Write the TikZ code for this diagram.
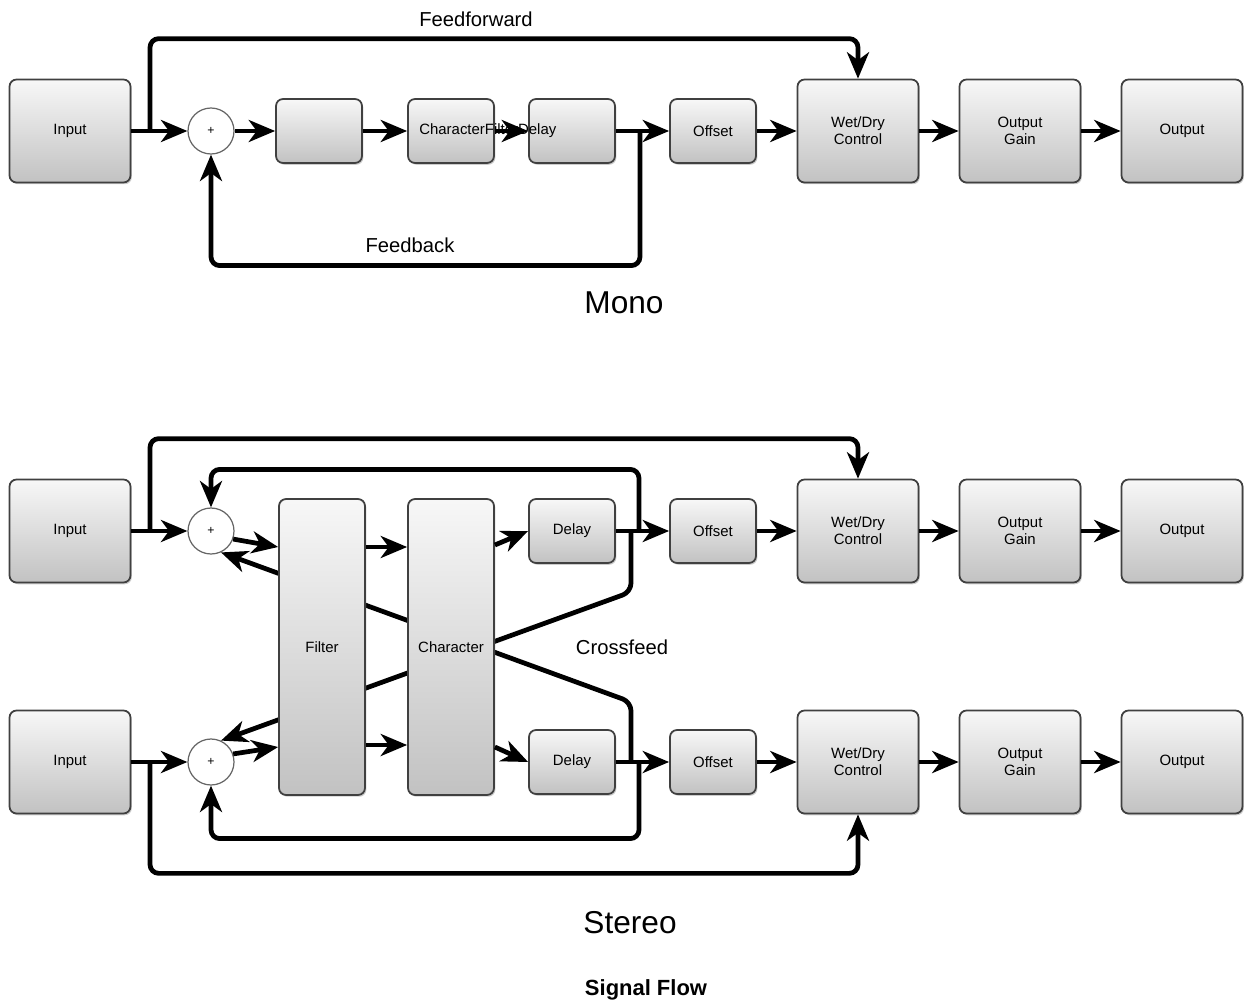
\documentclass[tikz,border=0pt]{standalone}
\usepackage{fontspec}
\setmainfont{Liberation Sans}
\usetikzlibrary{
  arrows.meta,
  calc,
  backgrounds,
  shadows
}
\tikzset{
  blockbox/.style={draw=black!75, line width=1pt, rounded corners=4pt,
    top color=gray!6, bottom color=gray!48,
    drop shadow={shadow xshift=0.8pt, shadow yshift=-1pt, opacity=0.4},
    minimum width=1.72cm, minimum height=1.28cm,
    align=center, font=\fontsize{8.5}{9.5}\selectfont},
  bigbox/.style={blockbox, minimum width=2.42cm, minimum height=2.06cm},
  tallbox/.style={blockbox, minimum width=1.72cm, minimum height=5.92cm},
  sumnode/.style={draw=black!60, circle, fill=white, line width=0.7pt,
    minimum size=0.92cm, inner sep=0pt, font=\fontsize{7}{8}\selectfont},
  arr/.style={-{Stealth[length=15pt, width=12.5pt, inset=4.5pt]}, line width=2.7pt},
  flow/.style={arr, rounded corners=5pt},
}

\begin{document}
\begin{tikzpicture}[x=0.02cm, y=-0.02cm,
  title/.style={font=\fontsize{18}{20}\selectfont},
  tag/.style={font=\fontsize{11.5}{13}\selectfont}
]
  \useasboundingbox (0,0) rectangle (1248,1004);

  % Mono chain
  \node[bigbox] (inM) at (70,131) {Input};
  \node[sumnode] (sumM) at (211,131) {+};
  \node[blockbox] (filM) at (319,131) {};
  \node[blockbox] (chrM) at (451,131) {};
  \node[blockbox] (delM) at (572,131) {};
  \node[blockbox] (offM) at (713,131) {Offset};
  \node[bigbox] (wetM) at (858,131) {Wet/Dry\\Control};
  \node[bigbox] (gainM) at (1020,131) {Output\\Gain};
  \node[bigbox] (outM) at (1182,131) {Output};
  \node[anchor=west, inner sep=0pt, font=\fontsize{8.5}{9.5}\selectfont]
    (chainM) at (419,131) {CharacterFilterDelay};

  \foreach \a/\b in {inM/sumM, sumM/filM, filM/chrM, chrM/delM,
                     delM/offM, offM/wetM, wetM/gainM, gainM/outM}
    \draw[arr] (\a) -- (\b);

  \coordinate (ffM) at (150,131);
  \coordinate (fbM) at (640,131);
  \draw[flow] (ffM) |- ($(wetM.north)+(0,-40)$) -- (wetM.north);
  \draw[flow] (fbM) |- ($(sumM.south)+(0,111)$) -- (sumM.south);

  \node[tag] (ffwd) at (476,19) {Feedforward};
  \node[tag] (fback) at (410,245) {Feedback};
  \node[title] (mono) at (624,303) {Mono};

  % Stereo chain
  \node[bigbox] (inT) at (70,531) {Input};
  \node[sumnode] (sumT) at (211,531) {+};
  \node[bigbox] (inB) at (70,762) {Input};
  \node[sumnode] (sumB) at (211,762) {+};
  \node[tallbox] (filS) at (322,647) {Filter};
  \node[tallbox] (chrS) at (451,647) {Character};
  \node[blockbox] (delT) at (572,531) {Delay};
  \node[blockbox] (offT) at (713,531) {Offset};
  \node[bigbox] (wetT) at (858,531) {Wet/Dry\\Control};
  \node[bigbox] (gainT) at (1020,531) {Output\\Gain};
  \node[bigbox] (outT) at (1182,531) {Output};
  \node[blockbox] (delB) at (572,762) {Delay};
  \node[blockbox] (offB) at (713,762) {Offset};
  \node[bigbox] (wetB) at (858,762) {Wet/Dry\\Control};
  \node[bigbox] (gainB) at (1020,762) {Output\\Gain};
  \node[bigbox] (outB) at (1182,762) {Output};

  \coordinate (ffT) at (150,531);
  \coordinate (fbT) at (639,531);
  \coordinate (cfT) at (631,531);
  \coordinate (ffB) at (150,762);
  \coordinate (fbB) at (639,762);
  \coordinate (cfB) at (631,762);

  % Crossfeed runs behind the tall boxes
  \begin{scope}[on background layer]
    \draw[flow] (cfT) -- (631,592) -- (sumB.65);
    \draw[flow] (cfB) -- (631,702) -- (sumT.-65);
  \end{scope}

  \draw[arr] (inT) -- (sumT);
  \draw[arr] (sumT.-20) -- ($(filS.west)+(0,-100)$);
  \draw[arr] ($(filS.east)+(0,-100)$) -- ($(chrS.west)+(0,-100)$);
  \draw[arr] ($(chrS.east)+(0,-102)$) -- (delT.west);
  \draw[arr] (inB) -- (sumB);
  \draw[arr] (sumB.20) -- ($(filS.west)+(0,100)$);
  \draw[arr] ($(filS.east)+(0,98)$) -- ($(chrS.west)+(0,98)$);
  \draw[arr] ($(chrS.east)+(0,100)$) -- (delB.west);
  \foreach \a/\b in {delT/offT, offT/wetT, wetT/gainT, gainT/outT,
                     delB/offB, offB/wetB, wetB/gainB, gainB/outB}
    \draw[arr] (\a) -- (\b);

  \draw[flow] (ffT) |- ($(wetT.north)+(0,-40)$) -- (wetT.north);
  \draw[flow] (fbT) |- ($(sumT.north)+(0,-38)$) -- (sumT.north);
  \draw[flow] (fbB) |- ($(sumB.south)+(0,53)$) -- (sumB.south);
  \draw[flow] (ffB) |- ($(wetB.south)+(0,59)$) -- (wetB.south);

  \node[tag] (xfeed) at (622,647) {Crossfeed};
  \node[title] (stereo) at (630,923) {Stereo};
  \node[font=\fontsize{12.5}{14}\selectfont\bfseries] (caption) at (646,990) {Signal Flow};
\end{tikzpicture}
\end{document}
